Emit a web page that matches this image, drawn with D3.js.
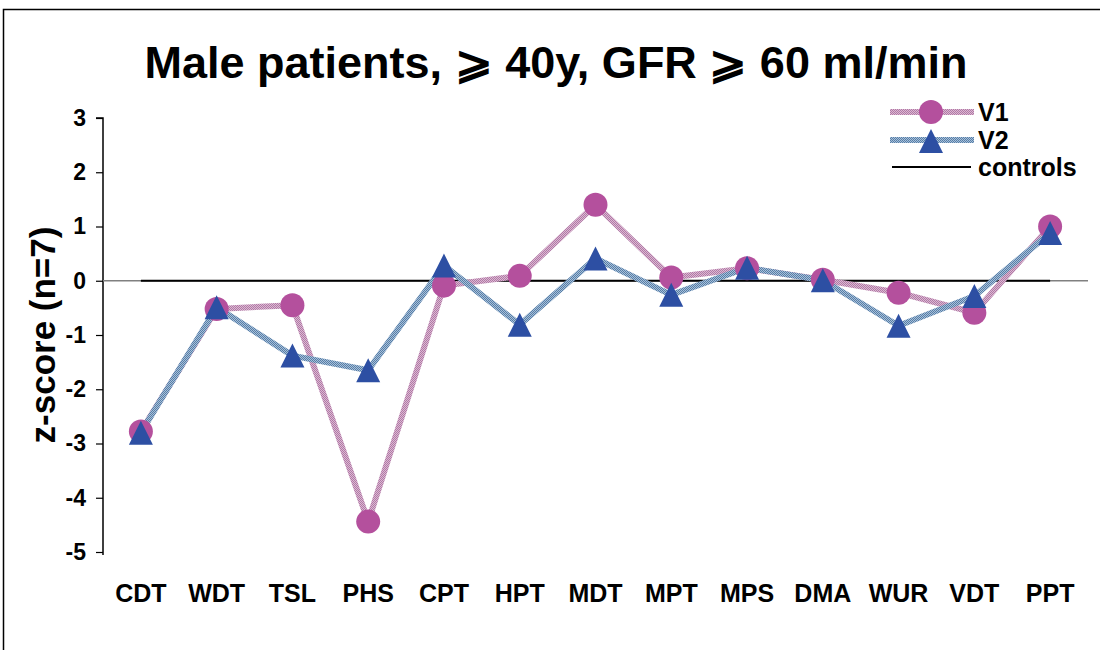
<!DOCTYPE html>
<html>
<head>
<meta charset="utf-8">
<script src="https://cdn.jsdelivr.net/npm/d3@7"></script>
<style>
  html, body { margin: 0; padding: 0; background: #fff; }
  svg { display: block; font-family: "Liberation Sans", Arial, sans-serif; }
</style>
</head>
<body>
<svg id="chart" width="1100" height="650"></svg>
<script>
// Sensory test categories (QST parameters)
const categories = ["CDT", "WDT", "TSL", "PHS", "CPT", "HPT", "MDT", "MPT", "MPS", "DMA", "WUR", "VDT", "PPT"];
// z-scores, visit 1
const v1 = [-2.78, -0.52, -0.45, -4.44, -0.09, 0.09, 1.40, 0.06, 0.23, 0.02, -0.22, -0.59, 1.00];
// z-scores, visit 2
const v2 = [-2.80, -0.49, -1.38, -1.65, 0.28, -0.81, 0.41, -0.26, 0.24, 0.01, -0.83, -0.28, 0.88];
// healthy controls reference
const controls = [0, 0, 0, 0, 0, 0, 0, 0, 0, 0, 0, 0, 0];
const yTicks = [3, 2, 1, 0, -1, -2, -3, -4, -5];

const title = "Male patients, \u2A7E 40y, GFR \u2A7E 60 ml/min";
const yTitle = "z-score (n=7)";

const svg = d3.select("#chart");

// stippled line textures
const defs = svg.append("defs");
function checker(id, c1, c2) {
  const p = defs.append("pattern").attr("id", id)
    .attr("patternUnits", "userSpaceOnUse").attr("width", 2).attr("height", 2);
  p.append("rect").attr("width", 2).attr("height", 2).attr("fill", c2);
  p.append("rect").attr("width", 1).attr("height", 1).attr("fill", c1);
  p.append("rect").attr("x", 1).attr("y", 1).attr("width", 1).attr("height", 1).attr("fill", c1);
}
checker("patV1", "#b07aa6", "#dcb8d2");
checker("patV2", "#567ea8", "#a9c0d8");

// chart area border
svg.append("rect").attr("x", 3.5).attr("y", 9.5).attr("width", 1200).attr("height", 700)
  .attr("fill", "none").attr("stroke", "#000").attr("stroke-width", 1.5);

const x = d3.scaleBand().domain(categories).range([103, 1088]).padding(0);
const cx = d => x(d) + x.bandwidth() / 2;
const y = d3.scaleLinear().domain([-5, 3]).range([552, 118]);

// title
svg.append("text").attr("x", 556).attr("y", 78).attr("text-anchor", "middle")
  .attr("font-size", 45).attr("font-weight", "bold").text(title);

// y axis
const yAxis = svg.append("g").attr("transform", "translate(103,0)")
  .call(d3.axisLeft(y).tickValues(yTicks).tickSize(7).tickPadding(10).tickFormat(d => String(d)));
yAxis.select(".domain").attr("stroke", "#000").attr("stroke-width", 1.5).attr("d", `M-7,${y(3)}H0V${y(-5) + 3}`);
yAxis.selectAll(".tick line").attr("stroke", "#000").attr("stroke-width", 1.2);
yAxis.selectAll(".tick text").attr("font-size", 23).attr("font-weight", "bold").attr("fill", "#000")
  .attr("font-family", "Liberation Sans, Arial, sans-serif");

svg.append("text")
  .attr("transform", `translate(55,${(y(3) + y(-5)) / 2}) rotate(-90)`)
  .attr("text-anchor", "middle").attr("font-size", 35).attr("font-weight", "bold").text(yTitle);

// horizontal category axis at zero
svg.append("line").attr("x1", 103).attr("x2", 1088).attr("y1", y(0)).attr("y2", y(0))
  .attr("stroke", "#808080").attr("stroke-width", 1.5);

// category labels
svg.append("g").selectAll("text").data(categories).join("text")
  .attr("x", d => cx(d)).attr("y", 602).attr("text-anchor", "middle")
  .attr("font-size", 25).attr("font-weight", "bold").text(d => d);

const line = d3.line().x((d, i) => cx(categories[i])).y(d => y(d));

// controls
svg.append("path").datum(controls).attr("d", line).attr("fill", "none")
  .attr("stroke", "#000").attr("stroke-width", 2);

// series lines
svg.append("path").datum(v1).attr("d", line).attr("fill", "none")
  .attr("stroke", "url(#patV1)").attr("stroke-width", 6).attr("stroke-linejoin", "round");
svg.append("path").datum(v2).attr("d", line).attr("fill", "none")
  .attr("stroke", "url(#patV2)").attr("stroke-width", 6).attr("stroke-linejoin", "round");

const circleColor = "#b4509d";
const triColor = "#2d4fa3";
function triPath(size) {
  // triangle centred on its bounding box
  const w = size, h = size;
  return `M0,${-h / 2}L${w / 2},${h / 2}L${-w / 2},${h / 2}Z`;
}

// V1 markers
svg.append("g").selectAll("circle").data(v1).join("circle")
  .attr("cx", (d, i) => cx(categories[i])).attr("cy", d => y(d)).attr("r", 12)
  .attr("fill", circleColor);
// V2 markers
svg.append("g").selectAll("path").data(v2).join("path")
  .attr("transform", (d, i) => `translate(${cx(categories[i])},${y(d)})`)
  .attr("d", triPath(24)).attr("fill", triColor);

// legend
const lg = svg.append("g");
const legendRows = [
  { label: "V1", y: 112, stroke: "url(#patV1)", marker: "circle" },
  { label: "V2", y: 140, stroke: "url(#patV2)", marker: "triangle" },
  { label: "controls", y: 167, stroke: "#000", marker: null }
];
legendRows.forEach(r => {
  lg.append("line").attr("x1", r.marker ? 890 : 892).attr("x2", r.marker ? 974 : 971)
    .attr("y1", r.y).attr("y2", r.y).attr("stroke", r.stroke).attr("stroke-width", r.marker ? 6 : 2);
  if (r.marker === "circle") {
    lg.append("circle").attr("cx", 931).attr("cy", r.y).attr("r", 12).attr("fill", circleColor);
  } else if (r.marker === "triangle") {
    lg.append("path").attr("transform", `translate(931,${r.y + 1})`).attr("d", triPath(24)).attr("fill", triColor);
  }
  lg.append("text").attr("x", 978).attr("y", r.y + 9).attr("font-size", 25).attr("font-weight", "bold").text(r.label);
});
</script>
</body>
</html>
